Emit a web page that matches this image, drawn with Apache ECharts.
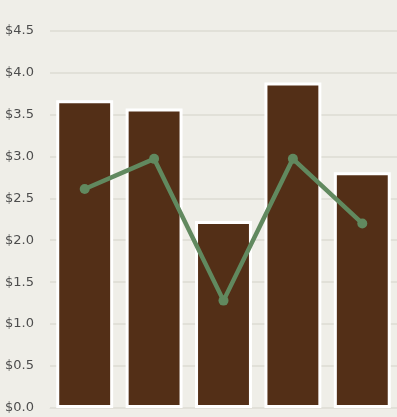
<!DOCTYPE html>
<html>
<head>
<meta charset="utf-8">
<script src="https://cdn.jsdelivr.net/npm/echarts@6/dist/echarts.min.js"></script>
<style>
html,body{margin:0;padding:0;background:#efeee8;}
#main{width:397px;height:417px;}
</style>
</head>
<body>
<div id="main"></div>
<script>
const categories = ['A', 'B', 'C', 'D', 'E'];
const barValues = [3.67, 3.57, 2.23, 3.88, 2.81];
const lineValues = [2.61, 2.97, 1.28, 2.97, 2.20];
const yTicks = [0, 0.5, 1, 1.5, 2, 2.5, 3, 3.5, 4, 4.5];

const chart = echarts.init(document.getElementById('main'), null, {renderer: 'canvas'});
chart.setOption({
  backgroundColor: '#efeee8',
  animation: false,
  grid: {left: 50, right: -2, top: 30.5, bottom: 9, containLabel: false},
  xAxis: {
    type: 'category',
    data: categories,
    axisLine: {show: true, lineStyle: {color: '#e2e0d9', width: 1}},
    axisTick: {show: false},
    axisLabel: {show: false},
    splitLine: {show: false}
  },
  yAxis: {
    type: 'value',
    min: yTicks[0],
    max: yTicks[yTicks.length - 1],
    interval: 0.5,
    axisLine: {show: false},
    axisTick: {show: false},
    axisLabel: {
      margin: 16,
      color: '#4d4d4d',
      fontSize: 13,
      fontFamily: 'DejaVu Sans',
      formatter: v => '$' + v.toFixed(1)
    },
    splitLine: {lineStyle: {color: '#dddbd3', width: 1.5}}
  },
  series: [
    {
      type: 'bar',
      data: barValues,
      barCategoryGap: '18%',
      itemStyle: {color: '#532f17', borderColor: '#ffffff', borderWidth: 3}
    },
    {
      type: 'line',
      data: lineValues,
      symbol: 'circle',
      symbolSize: 10,
      lineStyle: {color: '#61895f', width: 4.5},
      itemStyle: {color: '#61895f'}
    }
  ]
});
</script>
</body>
</html>
